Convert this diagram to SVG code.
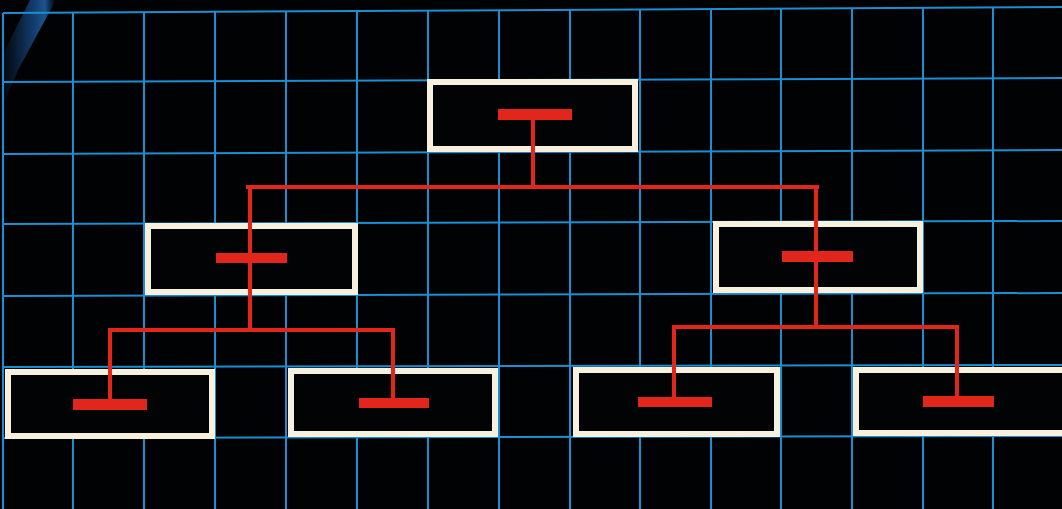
<svg xmlns="http://www.w3.org/2000/svg" width="1062" height="509" viewBox="0 0 1062 509">
  <defs>
    <style>
      .grid line { stroke: #1b8fd2; stroke-width: 2; }
      .box { fill: #020304; stroke: #f6f0dc; stroke-width: 6; }
      .bar { fill: #e3261c; }
      .conn { fill: none; stroke: #e3261c; stroke-width: 4; stroke-linejoin: miter; stroke-linecap: square; }
    </style>
    <linearGradient id="streak" x1="0" y1="0" x2="1" y2="0">
      <stop offset="0" stop-color="#1e5fb0" stop-opacity="0"/>
      <stop offset="0.55" stop-color="#1f6fc8" stop-opacity="0.5"/>
      <stop offset="0.8" stop-color="#2a7fd8" stop-opacity="0.65"/>
      <stop offset="1" stop-color="#1f6fc8" stop-opacity="0"/>
    </linearGradient>
  </defs>
  <rect width="1062" height="509" fill="#010203"/>
  <polygon points="30,0 56,0 18,70 0,112 0,60" fill="url(#streak)"/>
  <g class="grid" id="grid">
    <line x1="3" y1="13" x2="1062" y2="7"/>
    <line x1="3" y1="82" x2="1062" y2="78"/>
    <line x1="3" y1="154" x2="1062" y2="150"/>
    <line x1="3" y1="224" x2="1062" y2="221"/>
    <line x1="3" y1="296" x2="1062" y2="293"/>
    <line x1="3" y1="367" x2="1062" y2="365"/>
    <line x1="3" y1="438" x2="1062" y2="436"/>
    <line x1="3" y1="13" x2="3" y2="509"/>
    <line x1="73" y1="13" x2="73" y2="509"/>
    <line x1="144" y1="12" x2="144" y2="509"/>
    <line x1="215" y1="12" x2="215" y2="509"/>
    <line x1="286" y1="12" x2="286" y2="509"/>
    <line x1="357" y1="11" x2="357" y2="509"/>
    <line x1="428" y1="11" x2="428" y2="509"/>
    <line x1="499" y1="10" x2="499" y2="509"/>
    <line x1="570" y1="10" x2="570" y2="509"/>
    <line x1="640" y1="10" x2="640" y2="509"/>
    <line x1="711" y1="9" x2="711" y2="509"/>
    <line x1="781" y1="9" x2="781" y2="509"/>
    <line x1="852" y1="8" x2="852" y2="509"/>
    <line x1="923" y1="8" x2="923" y2="509"/>
    <line x1="993" y1="7" x2="993" y2="509"/>
  </g>
  <g id="node-root">
    <rect class="box" x="430" y="82" width="205" height="67"/>
  </g>
  <g id="node-mid-left">
    <rect class="box" x="148" y="226" width="207" height="66"/>
  </g>
  <g id="node-mid-right">
    <rect class="box" x="716" y="224" width="204" height="66"/>
  </g>
  <g id="node-bottom-1">
    <rect class="box" x="8" y="372" width="204" height="64"/>
  </g>
  <g id="node-bottom-2">
    <rect class="box" x="291" y="371" width="204" height="63"/>
  </g>
  <g id="node-bottom-3">
    <rect class="box" x="576" y="370" width="201" height="64"/>
  </g>
  <g id="node-bottom-4">
    <rect class="box" x="856" y="370" width="212" height="63"/>
  </g>
  <g id="connectors">
    <path class="conn" d="M533,120 V187 M248,187 H817 M250,187 V330 M110,330 H393 M110,330 V400 M393,330 V399 M816,187 V327 M674,327 H957 M674,327 V398 M957,327 V397"/>
  </g>
  <g id="bars">
    <rect class="bar" x="498" y="109" width="74" height="11"/>
    <rect class="bar" x="216" y="253" width="71" height="10"/>
    <rect class="bar" x="782" y="251" width="71" height="11"/>
    <rect class="bar" x="73" y="399" width="74" height="11"/>
    <rect class="bar" x="359" y="398" width="70" height="10"/>
    <rect class="bar" x="638" y="397" width="74" height="10"/>
    <rect class="bar" x="923" y="396" width="71" height="11"/>
  </g>
</svg>
